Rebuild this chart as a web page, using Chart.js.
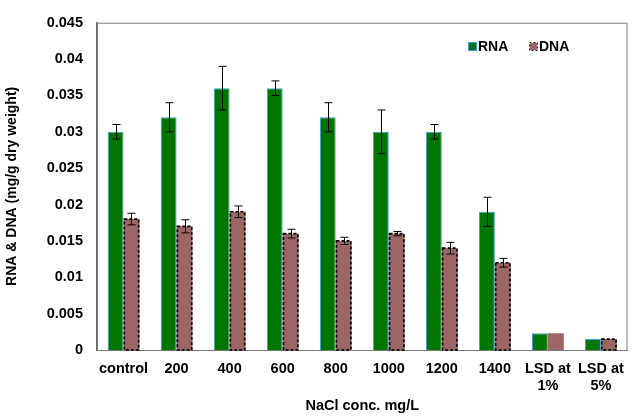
<!DOCTYPE html>
<html>
<head>
<meta charset="utf-8">
<script src="https://cdn.jsdelivr.net/npm/chart.js@4"></script>
<style>
html,body{margin:0;padding:0;background:#fff;}
#wrap{width:634px;height:416px;position:relative;}
</style>
</head>
<body>
<div id="wrap"><canvas id="c"></canvas></div>
<script>
const categories = ["control","200","400","600","800","1000","1200","1400",["LSD at","1%"],["LSD at","5%"]];
const rnaValues = [0.030,0.032,0.036,0.036,0.032,0.030,0.030,0.019,0.0023,0.0015];
const rnaErrors = [0.001,0.002,0.003,0.001,0.002,0.003,0.001,0.002,0,0];
const dnaValues = [0.018,0.017,0.019,0.016,0.015,0.016,0.014,0.012,0.0023,0.0015];
const dnaErrors = [0.0008,0.0009,0.0008,0.0006,0.0005,0.0003,0.0008,0.0006,0,0];
const yTicks = [0,0.005,0.01,0.015,0.02,0.025,0.03,0.035,0.04,0.045];

const FONT = "'Liberation Sans', Arial, sans-serif";

const errorBars = {
  id:'errorBars',
  afterDatasetsDraw(chart){
    const ctx = chart.ctx, y = chart.scales.y;
    chart.data.datasets.forEach((ds,i)=>{
      const meta = chart.getDatasetMeta(i);
      meta.data.forEach((el,j)=>{
        const e = ds.errors[j]; if(!e) return;
        const v = ds.data[j];
        const yt = y.getPixelForValue(v+e), yb = y.getPixelForValue(v-e);
        const x = Math.round(el.x)+0.5;
        ctx.save(); ctx.strokeStyle='#000'; ctx.lineWidth=1;
        ctx.beginPath();
        ctx.moveTo(x,yt); ctx.lineTo(x,yb);
        ctx.moveTo(x-4,yt); ctx.lineTo(x+4,yt);
        ctx.moveTo(x-4,yb); ctx.lineTo(x+4,yb);
        ctx.stroke(); ctx.restore();
      });
    });
  }
};

const dashedBorders = {
  id:'dashedBorders',
  afterDatasetsDraw(chart){
    const ctx = chart.ctx;
    const meta = chart.getDatasetMeta(1);
    meta.data.forEach((el,j)=>{
      if(j===8) return;
      const p = el.getProps(['x','y','base','width'],true);
      ctx.save(); ctx.strokeStyle='#000'; ctx.lineWidth=1.6; ctx.setLineDash([3,2]);
      ctx.strokeRect(p.x-p.width/2+0.8, p.y, p.width-1.6, p.base-p.y);
      ctx.restore();
    });
  }
};

const frame = {
  id:'frame',
  beforeDatasetsDraw(chart){
    const a = chart.chartArea, ctx = chart.ctx;
    ctx.save(); ctx.strokeStyle='#7a7a7a'; ctx.lineWidth=1;
    ctx.strokeRect(a.left+0.5, a.top+0.5, a.right-a.left-1, a.bottom-a.top);
    ctx.restore();
  }
};

const legendBox = {
  id:'legendBox',
  afterDraw(chart){
    const ctx = chart.ctx;
    const xs = [469, 530];
    chart.data.datasets.forEach((ds,i)=>{
      const x = xs[i], y = 43;
      ctx.save();
      ctx.fillStyle = ds.backgroundColor;
      ctx.fillRect(x,y,7,7);
      ctx.lineWidth=1;
      if(i===0){ ctx.strokeStyle = ds.borderColor; ctx.strokeRect(x-0.5,y-0.5,8,8); }
      else { ctx.strokeStyle='#111'; ctx.setLineDash([2,2]); ctx.strokeRect(x-0.5,y-0.5,8,8); }
      ctx.setLineDash([]);
      ctx.fillStyle='#000'; ctx.font = "bold 14px "+FONT; ctx.textBaseline='middle';
      ctx.fillText(ds.label, x+9, y+4);
      ctx.restore();
    });
  }
};

new Chart(document.getElementById('c'), {
  type:'bar',
  data:{
    labels:categories,
    datasets:[
      {label:'RNA', data:rnaValues, errors:rnaErrors, backgroundColor:'#007600', borderColor:'#3a9ee0', borderWidth:1, categoryPercentage:0.6, barPercentage:1.0},
      {label:'DNA', data:dnaValues, errors:dnaErrors, backgroundColor:'#9b6664', borderWidth:0, categoryPercentage:0.6, barPercentage:1.0}
    ]
  },
  options:{
    responsive:true, maintainAspectRatio:false, animation:false,
    layout:{padding:{top:18,right:2,left:0,bottom:0}},
    plugins:{legend:{display:false}, tooltip:{enabled:false}},
    scales:{
      x:{
        grid:{display:false, drawTicks:false},
        border:{display:true,color:'#7a7a7a',width:1},
        ticks:{color:'#000', font:{family:FONT,size:14.5,weight:'bold',lineHeight:1.2}, padding:10, maxRotation:0, autoSkip:false},
        title:{display:true,text:'NaCl conc. mg/L',color:'#000',font:{family:FONT,size:14.5,weight:'bold'},padding:{top:0,bottom:1}},
        afterFit(s){ s.height = 66; }
      },
      y:{
        min:0, max:0.045,
        afterBuildTicks(s){ s.ticks = yTicks.map(v=>({value:v})); },
        grid:{display:false, drawTicks:false},
        border:{display:true,color:'#6a6a6a',width:1.5},
        ticks:{color:'#000', font:{family:FONT,size:14.5,weight:'bold'}, padding:14,
          callback:(v)=>String(Number(v.toFixed(3)))},
        title:{display:true,text:'RNA & DNA (mg/g dry weight)',color:'#000',font:{family:FONT,size:14,weight:'bold'},padding:{top:4,bottom:4}},
        afterFit(s){ s.width = 97; }
      }
    }
  },
  plugins:[frame, errorBars, dashedBorders, legendBox]
});
</script>
</body>
</html>
